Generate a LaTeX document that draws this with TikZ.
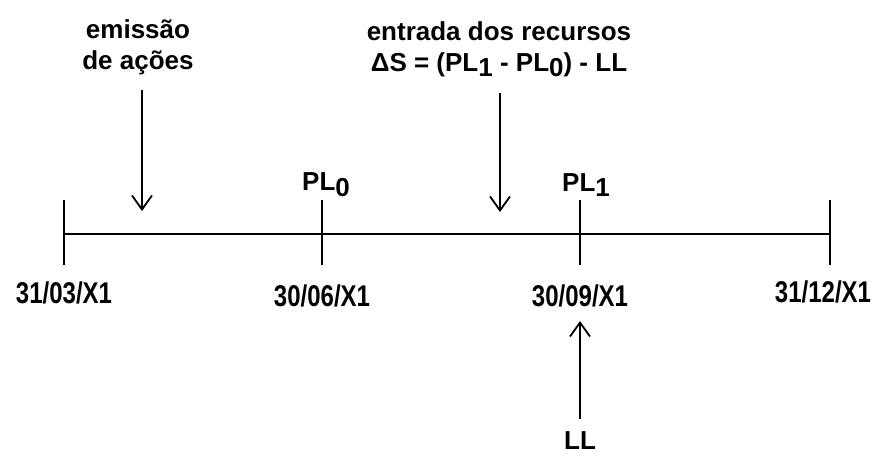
\documentclass[tikz,border=0pt]{standalone}
\usepackage{fontspec}
\setmainfont{Liberation Sans}
\usetikzlibrary{arrows.meta, positioning}

\newcommand{\idx}[1]{\raisebox{-0.4ex}{#1}}
\newcommand{\narrow}[1]{\scalebox{0.8}[1]{#1}}

\tikzset{
  rotulo/.style={font=\fontsize{13}{15.5}\selectfont\bfseries, align=center, inner sep=1pt},
  data/.style={font=\fontsize{15}{17}\selectfont\bfseries, inner sep=1pt},
  seta/.style={line width=0.9pt, -{Straight Barb[length=7pt,width=10pt]}},
  eixo/.style={line width=0.9pt}
}

\begin{document}
\begin{tikzpicture}[x=0.5pt, y=-0.5pt]
    \useasboundingbox (0,0) rectangle (884,455);

    % Marcos da linha do tempo
    \coordinate (m1) at (64,234);
    \coordinate (m2) at (322,234);
    \coordinate (m3) at (580,234);
    \coordinate (m4) at (830,234);

    % Eixo e marcas
    \draw[eixo] (m1) -- (m4);
    \foreach \m in {m1,m2,m3,m4}
        \draw[eixo] ([yshift=17pt]\m) coordinate (\m-cima) -- ([yshift=-15.5pt]\m) coordinate (\m-baixo);

    % Datas
    \node[data, below=7pt of m1-baixo] (d1) {\narrow{31/03/X1}};
    \node[data, below=8.5pt of m2-baixo] (d2) {\narrow{30/06/X1}};
    \node[data, below=8.5pt of m3-baixo] (d3) {\narrow{30/09/X1}};
    \node[data, below=6.5pt of m4-baixo, xshift=-3.5pt] (d4) {\narrow{31/12/X1}};

    % Patrimonio liquido
    \node[rotulo, above=0.5pt of m2-cima, xshift=2pt] (pl0) {PL\idx{0}};
    \node[rotulo, above=0.5pt of m3-cima, xshift=3pt] (pl1) {PL\idx{1}};

    % Textos de cima
    \node[rotulo] (emissao) at (138,47) {emissão\\de ações};
    \node[rotulo] (entrada) at (499,49) {entrada dos recursos\\ΔS = (PL\idx{1} - PL\idx{0}) - LL};
    \node[rotulo] (ll) at (580,441) {LL};

    % Setas
    \coordinate (e1) at (142,90);
    \coordinate (e2) at (142,211);
    \coordinate (r1) at (500,93);
    \coordinate (r2) at (500,212);
    \coordinate (l1) at (580,419);
    \coordinate (l2) at (580,321);
    \draw[seta] (e1) -- (e2);
    \draw[seta] (r1) -- (r2);
    \draw[seta] (l1) -- (l2);
\end{tikzpicture}
\end{document}
